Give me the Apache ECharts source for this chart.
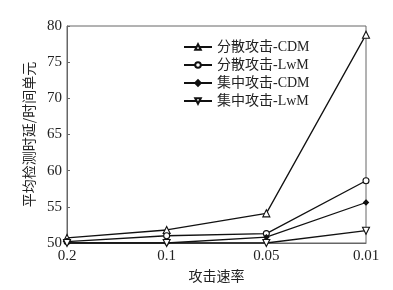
<!DOCTYPE html>
<html>
<head>
<meta charset="utf-8">
<script src="https://cdn.jsdelivr.net/npm/echarts@6/dist/echarts.min.js"></script>
<style>
  html, body { margin: 0; padding: 0; background: #fff; }
  #chart { width: 393px; height: 290px; }
</style>
</head>
<body>
<div id="chart"></div>
<script>
// 横轴：攻击速率
const rates = ['0.2', '0.1', '0.05', '0.01'];

// 各方案的平均检测时延
const seriesNames = ['分散攻击-CDM', '分散攻击-LwM', '集中攻击-CDM', '集中攻击-LwM'];
const dispersedCDM = [50.7, 51.8, 54.1, 78.8];
const dispersedLwM = [50.2, 51.0, 51.3, 58.6];
const concentratedCDM = [50.0, 50.0, 50.8, 55.6];
const concentratedLwM = [50.0, 50.0, 50.0, 51.7];

const yTicks = [50, 55, 60, 65, 70, 75, 80];

const serifFont = '"Liberation Serif", "Noto Sans CJK SC", serif';

function makeSeries(name, data, symbol, rotate, filled, size) {
    return {
        name: name,
        type: 'line',
        data: data,
        symbol: symbol,
        symbolSize: size,
        symbolRotate: rotate,
        lineStyle: { color: '#111', width: 1.3 },
        itemStyle: {
            color: filled ? '#111' : '#fff',
            borderColor: '#111',
            borderWidth: 1.1
        },
        emphasis: { disabled: true }
    };
}

const chart = echarts.init(document.getElementById('chart'));

chart.setOption({
    animation: false,
    backgroundColor: '#fff',
    grid: {
        left: 67, right: 27, top: 26, bottom: 47,
        show: true,
        borderColor: '#666',
        borderWidth: 1
    },
    legend: {
        orient: 'vertical',
        left: 178,
        top: 35,
        itemWidth: 28,
        itemHeight: 7,
        itemGap: 4,
        textStyle: { fontFamily: serifFont, fontSize: 14, color: '#222' },
        data: seriesNames
    },
    xAxis: {
        type: 'category',
        data: rates,
        boundaryGap: false,
        name: '攻击速率',
        nameLocation: 'middle',
        nameGap: 26,
        nameTextStyle: { fontFamily: '"Noto Sans CJK SC"', fontSize: 14, color: '#222' },
        axisLine: { lineStyle: { color: '#666' } },
        axisTick: { show: false },
        axisLabel: { fontFamily: serifFont, fontSize: 15, color: '#222', margin: 6 },
        splitLine: { show: false }
    },
    yAxis: {
        type: 'value',
        min: yTicks[0],
        max: yTicks[yTicks.length - 1],
        interval: 5,
        name: '平均检测时延/时间单元',
        nameLocation: 'middle',
        nameRotate: 90,
        nameGap: 30,
        nameTextStyle: { fontFamily: '"Noto Sans CJK SC"', fontSize: 14, color: '#222' },
        axisLine: { show: true, lineStyle: { color: '#666' } },
        axisTick: { show: true, inside: true, length: 3, lineStyle: { color: '#666' } },
        axisLabel: { fontFamily: serifFont, fontSize: 15, color: '#222', margin: 5 },
        splitLine: { show: false }
    },
    series: [
        makeSeries(seriesNames[0], dispersedCDM, 'triangle', 0, false, 7),
        makeSeries(seriesNames[1], dispersedLwM, 'circle', 0, false, 6),
        makeSeries(seriesNames[2], concentratedCDM, 'diamond', 0, true, 5),
        makeSeries(seriesNames[3], concentratedLwM, 'triangle', 180, false, 7)
    ]
});
</script>
</body>
</html>
